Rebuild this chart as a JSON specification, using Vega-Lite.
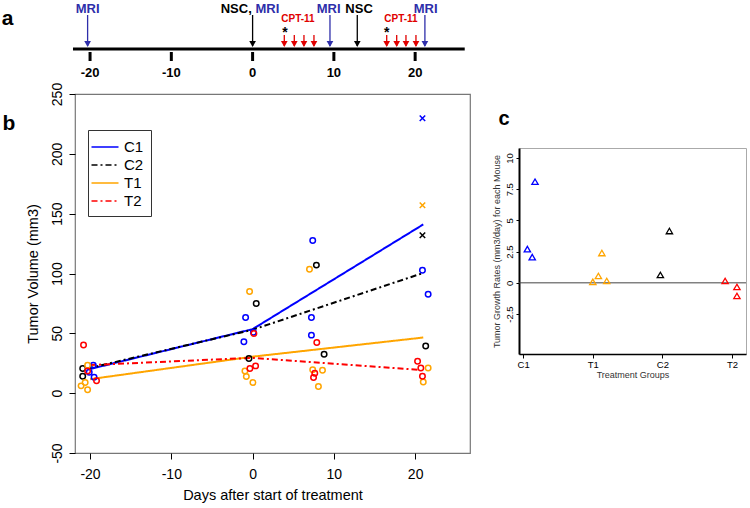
{
  "$schema": "https://vega.github.io/schema/vega-lite/v6.json",
  "padding": 0,
  "background": "white",
  "bounds": "flush",
  "spacing": 0,
  "config": {
    "view": {"stroke": null},
    "font": "Liberation Sans",
    "locale": {"number": {"decimal": ".", "thousands": ",", "grouping": [3], "currency": ["$", ""], "minus": "-"}},
    "axis": {"grid": false, "labelColor": "black", "titleColor": "black", "tickColor": "black", "domainColor": "black", "labelFont": "Liberation Sans", "titleFont": "Liberation Sans", "labelFlush": false, "labelOverlap": false}
  },
  "resolve": {"scale": {"color": "independent", "shape": "independent", "strokeDash": "independent"}, "legend": {"color": "independent", "shape": "independent", "strokeDash": "independent"}},
  "datasets": {
    "events": [
      {"d": -20.3, "event": "MRI"},
      {"d": 0, "event": "NSC"},
      {"d": 9.52, "event": "MRI"},
      {"d": 12.88, "event": "NSC"},
      {"d": 21.2, "event": "MRI"},
      {"d": 3.9, "event": "CPT-11"},
      {"d": 5.13, "event": "CPT-11"},
      {"d": 6.32, "event": "CPT-11"},
      {"d": 7.55, "event": "CPT-11"},
      {"d": 16.5, "event": "CPT-11"},
      {"d": 17.73, "event": "CPT-11"},
      {"d": 18.87, "event": "CPT-11"},
      {"d": 20.1, "event": "CPT-11"}
    ],
    "fits": [
      {"day": -20.1, "vol": 20, "group": "C1"},
      {"day": 0, "vol": 53.5, "group": "C1"},
      {"day": 21, "vol": 141, "group": "C1"},
      {"day": -20.3, "vol": 20.6, "group": "C2"},
      {"day": 0, "vol": 53, "group": "C2"},
      {"day": 20.8, "vol": 100, "group": "C2"},
      {"day": -20, "vol": 11.7, "group": "T1"},
      {"day": 0, "vol": 30.5, "group": "T1"},
      {"day": 21, "vol": 46.5, "group": "T1"},
      {"day": -20, "vol": 23.5, "group": "T2"},
      {"day": 0, "vol": 29.5, "group": "T2"},
      {"day": 20.5, "vol": 19.5, "group": "T2"}
    ],
    "obs": [
      {"day": -19.6, "vol": 23.4, "group": "C1", "marker": "o"},
      {"day": -19.5, "vol": 13.4, "group": "C1", "marker": "o"},
      {"day": -20.1, "vol": 17.5, "group": "C1", "marker": "o"},
      {"day": -0.86, "vol": 63.2, "group": "C1", "marker": "o"},
      {"day": -1.07, "vol": 42.9, "group": "C1", "marker": "o"},
      {"day": 0.1, "vol": 51, "group": "C1", "marker": "o"},
      {"day": 7.4, "vol": 127.5, "group": "C1", "marker": "o"},
      {"day": 7.24, "vol": 63.2, "group": "C1", "marker": "o"},
      {"day": 7.24, "vol": 48.5, "group": "C1", "marker": "o"},
      {"day": 20.9, "vol": 229.7, "group": "C1", "marker": "x"},
      {"day": 20.9, "vol": 102.8, "group": "C1", "marker": "o"},
      {"day": 21.6, "vol": 82.7, "group": "C1", "marker": "o"},
      {"day": -20.9, "vol": 20.6, "group": "C2", "marker": "o"},
      {"day": -20.9, "vol": 14.2, "group": "C2", "marker": "o"},
      {"day": 0.45, "vol": 75, "group": "C2", "marker": "o"},
      {"day": -0.45, "vol": 29, "group": "C2", "marker": "o"},
      {"day": 7.85, "vol": 107, "group": "C2", "marker": "o"},
      {"day": 8.8, "vol": 32.5, "group": "C2", "marker": "o"},
      {"day": 20.9, "vol": 132, "group": "C2", "marker": "x"},
      {"day": 21.3, "vol": 39.5, "group": "C2", "marker": "o"},
      {"day": -20.3, "vol": 23.4, "group": "T1", "marker": "o"},
      {"day": -20.6, "vol": 8.9, "group": "T1", "marker": "o"},
      {"day": -21.1, "vol": 6.1, "group": "T1", "marker": "o"},
      {"day": -20.3, "vol": 2.8, "group": "T1", "marker": "o"},
      {"day": -0.37, "vol": 85, "group": "T1", "marker": "o"},
      {"day": -0.94, "vol": 18.6, "group": "T1", "marker": "o"},
      {"day": -0.77, "vol": 13.9, "group": "T1", "marker": "o"},
      {"day": 0.04, "vol": 8.9, "group": "T1", "marker": "o"},
      {"day": 7.0, "vol": 103.6, "group": "T1", "marker": "o"},
      {"day": 7.4, "vol": 19.5, "group": "T1", "marker": "o"},
      {"day": 8.6, "vol": 19.2, "group": "T1", "marker": "o"},
      {"day": 8.1, "vol": 5.6, "group": "T1", "marker": "o"},
      {"day": 20.9, "vol": 157, "group": "T1", "marker": "x"},
      {"day": 21.6, "vol": 21, "group": "T1", "marker": "o"},
      {"day": 21.0, "vol": 9.3, "group": "T1", "marker": "o"},
      {"day": -20.8, "vol": 40.3, "group": "T2", "marker": "o"},
      {"day": -20.3, "vol": 18.5, "group": "T2", "marker": "o"},
      {"day": -19.2, "vol": 10.3, "group": "T2", "marker": "o"},
      {"day": 0.16, "vol": 49.9, "group": "T2", "marker": "o"},
      {"day": -0.33, "vol": 20.6, "group": "T2", "marker": "o"},
      {"day": 0.37, "vol": 22.8, "group": "T2", "marker": "o"},
      {"day": 7.9, "vol": 42.3, "group": "T2", "marker": "o"},
      {"day": 7.65, "vol": 16.7, "group": "T2", "marker": "o"},
      {"day": 7.5, "vol": 13.1, "group": "T2", "marker": "o"},
      {"day": 20.3, "vol": 26.7, "group": "T2", "marker": "o"},
      {"day": 20.7, "vol": 21, "group": "T2", "marker": "o"},
      {"day": 20.9, "vol": 14.2, "group": "T2", "marker": "o"}
    ],
    "rates": [
      {"pos": 1.06, "rate": 2.7, "group": "C1"},
      {"pos": 1.13, "rate": 2.06, "group": "C1"},
      {"pos": 1.17, "rate": 8.1, "group": "C1"},
      {"pos": 2.0, "rate": 0.08, "group": "T1"},
      {"pos": 2.08, "rate": 0.55, "group": "T1"},
      {"pos": 2.13, "rate": 2.39, "group": "T1"},
      {"pos": 2.2, "rate": 0.15, "group": "T1"},
      {"pos": 2.97, "rate": 0.63, "group": "C2"},
      {"pos": 3.1, "rate": 4.15, "group": "C2"},
      {"pos": 3.9, "rate": 0.15, "group": "T2"},
      {"pos": 4.07, "rate": -0.33, "group": "T2"},
      {"pos": 4.07, "rate": -1.05, "group": "T2"}
    ]
  },
  "vconcat": [
    {
      "width": 750,
      "height": 94,
      "encoding": {
        "x": {"field": "d", "type": "quantitative", "scale": {"domain": [-31.08, 61.2], "nice": false, "zero": false}, "axis": null}
      },
      "layer": [
        {
          "data": {"values": [{"d": -22.1, "d2": 26.1}]},
          "mark": {"type": "rule", "strokeWidth": 3, "color": "black"},
          "encoding": {"x2": {"field": "d2"}, "y": {"datum": -1, "type": "quantitative", "scale": {"domain": [-46, 48], "nice": false, "zero": false}, "axis": null}}
        },
        {
          "data": {"values": [{"d": -20, "lab": "-20"}, {"d": -10, "lab": "-10"}, {"d": 0, "lab": "0"}, {"d": 10, "lab": "10"}, {"d": 20, "lab": "20"}]},
          "mark": {"type": "rule", "strokeWidth": 3, "color": "black"},
          "encoding": {"y": {"datum": -4, "type": "quantitative", "scale": {"domain": [-46, 48]}, "axis": null}, "y2": {"datum": -13}}
        },
        {
          "data": {"values": [{"d": -20, "lab": "-20"}, {"d": -10, "lab": "-10"}, {"d": 0, "lab": "0"}, {"d": 10, "lab": "10"}, {"d": 20, "lab": "20"}]},
          "mark": {"type": "text", "fontSize": 13, "fontWeight": "bold", "baseline": "middle", "align": "center", "color": "black"},
          "encoding": {"y": {"datum": -25, "type": "quantitative", "scale": {"domain": [-46, 48]}, "axis": null}, "text": {"field": "lab"}}
        },
        {
          "data": {"name": "events"},
          "transform": [{"filter": "datum.event !== 'CPT-11'"}],
          "mark": {"type": "rule", "strokeWidth": 1.3},
          "encoding": {
            "y": {"datum": 33, "type": "quantitative", "scale": {"domain": [-46, 48]}, "axis": null},
            "y2": {"datum": 2},
            "color": {"field": "event", "type": "nominal", "scale": {"domain": ["MRI", "NSC", "CPT-11"], "range": ["#2e2eaa", "#000000", "#e00000"]}, "legend": null}
          }
        },
        {
          "data": {"name": "events"},
          "transform": [{"filter": "datum.event === 'CPT-11'"}],
          "mark": {"type": "rule", "strokeWidth": 1.3},
          "encoding": {
            "y": {"datum": 13, "type": "quantitative", "scale": {"domain": [-46, 48]}, "axis": null},
            "y2": {"datum": 2},
            "color": {"field": "event", "type": "nominal", "legend": null}
          }
        },
        {
          "data": {"name": "events"},
          "mark": {"type": "point", "shape": "triangle-down", "filled": true, "size": 45, "opacity": 1},
          "encoding": {
            "y": {"datum": 4, "type": "quantitative", "scale": {"domain": [-46, 48]}, "axis": null},
            "color": {"field": "event", "type": "nominal", "legend": null}
          }
        },
        {
          "data": {"values": [{"d": -20.3, "lab": "MRI", "event": "MRI"}, {"d": 9.35, "lab": "MRI", "event": "MRI"}, {"d": 13.1, "lab": "NSC", "event": "NSC"}, {"d": 21.3, "lab": "MRI", "event": "MRI"}]},
          "mark": {"type": "text", "fontSize": 13, "fontWeight": "bold", "baseline": "middle", "align": "center"},
          "encoding": {
            "y": {"datum": 39, "type": "quantitative", "scale": {"domain": [-46, 48]}, "axis": null},
            "text": {"field": "lab"},
            "color": {"field": "event", "type": "nominal", "legend": null}
          }
        },
        {
          "data": {"values": [{"d": -0.1, "lab": "NSC,", "event": "NSC"}]},
          "mark": {"type": "text", "fontSize": 13, "fontWeight": "bold", "baseline": "middle", "align": "right"},
          "encoding": {
            "y": {"datum": 39, "type": "quantitative", "scale": {"domain": [-46, 48]}, "axis": null},
            "text": {"field": "lab"},
            "color": {"field": "event", "type": "nominal", "legend": null}
          }
        },
        {
          "data": {"values": [{"d": 0.35, "lab": "MRI", "event": "MRI"}]},
          "mark": {"type": "text", "fontSize": 13, "fontWeight": "bold", "baseline": "middle", "align": "left"},
          "encoding": {
            "y": {"datum": 39, "type": "quantitative", "scale": {"domain": [-46, 48]}, "axis": null},
            "text": {"field": "lab"},
            "color": {"field": "event", "type": "nominal", "legend": null}
          }
        },
        {
          "data": {"values": [{"d": 5.58, "lab": "CPT-11", "event": "CPT-11"}, {"d": 18.26, "lab": "CPT-11", "event": "CPT-11"}]},
          "mark": {"type": "text", "fontSize": 10, "fontWeight": "bold", "baseline": "middle", "align": "center"},
          "encoding": {
            "y": {"datum": 29.5, "type": "quantitative", "scale": {"domain": [-46, 48]}, "axis": null},
            "text": {"field": "lab"},
            "color": {"field": "event", "type": "nominal", "legend": null}
          }
        },
        {
          "data": {"values": [{"d": 3.98, "lab": "*"}, {"d": 16.5, "lab": "*"}]},
          "mark": {"type": "text", "fontSize": 14, "fontWeight": "bold", "baseline": "alphabetic", "align": "center", "color": "black"},
          "encoding": {
            "y": {"datum": 11, "type": "quantitative", "scale": {"domain": [-46, 48]}, "axis": null},
            "text": {"field": "lab"}
          }
        },
        {
          "data": {"values": [{"d": -30.15, "lab": "a"}]},
          "mark": {"type": "text", "fontSize": 21, "fontWeight": "bold", "baseline": "alphabetic", "align": "center", "color": "black"},
          "encoding": {
            "y": {"datum": 23.5, "type": "quantitative", "scale": {"domain": [-46, 48]}, "axis": null},
            "text": {"field": "lab"}
          }
        }
      ]
    },
    {
      "bounds": "flush",
      "spacing": 0,
      "resolve": {"scale": {"color": "independent", "shape": "independent", "strokeDash": "independent"}, "legend": {"color": "independent", "shape": "independent", "strokeDash": "independent"}},
      "hconcat": [
        {"width": 75, "height": 359, "data": {"values": []}, "mark": "text"},
        {
          "width": 395,
          "height": 359,
          "view": {"stroke": "#777777", "strokeWidth": 1.2},
          "encoding": {
            "x": {"field": "day", "type": "quantitative", "scale": {"domain": [-21.85, 26.75], "nice": false, "zero": false},
              "axis": {"values": [-20, -10, 0, 10, 20], "title": "Days after start of treatment", "titleFontSize": 14.5, "titleFontWeight": "normal", "titlePadding": 7, "labelFontSize": 14, "tickSize": 6, "labelPadding": 8, "domain": false}},
            "y": {"field": "vol", "type": "quantitative", "scale": {"domain": [-50, 250], "nice": false, "zero": false},
              "axis": {"values": [-50, 0, 50, 100, 150, 200, 250], "title": "Tumor Volume (mm3)", "titleFontSize": 14.5, "titleFontWeight": "normal", "titlePadding": 10, "labelFontSize": 14, "labelAngle": 270, "labelAlign": "center", "labelBaseline": "bottom", "tickSize": 6, "labelPadding": 5, "domain": false}}
          },
          "layer": [
            {
              "data": {"name": "fits"},
              "mark": {"type": "line", "strokeWidth": 2},
              "encoding": {
                "color": {"field": "group", "type": "nominal", "scale": {"domain": ["C1", "C2", "T1", "T2"], "range": ["#0000ff", "#000000", "#ffa500", "#ff0000"]},
                  "legend": {"title": null, "orient": "none", "legendX": 13, "legendY": 36, "symbolType": "M-1.5,0L1.5,0", "symbolSize": 324, "symbolStrokeWidth": 1.5, "labelFontSize": 15, "labelOffset": 9, "padding": 7, "rowPadding": 0, "strokeColor": "#333333", "fillColor": "white", "labelColor": "black"}},
                "strokeDash": {"field": "group", "type": "nominal", "scale": {"domain": ["C1", "C2", "T1", "T2"], "range": [[1, 0], [6, 3, 2, 3], [1, 0], [6, 3, 2, 3]]},
                  "legend": {"title": null, "orient": "none", "legendX": 13, "legendY": 36, "symbolType": "M-1.5,0L1.5,0", "symbolSize": 324, "symbolStrokeWidth": 1.5, "labelFontSize": 15, "labelOffset": 9, "padding": 7, "rowPadding": 0, "strokeColor": "#333333", "fillColor": "white", "labelColor": "black"}}
              }
            },
            {
              "data": {"name": "obs"},
              "mark": {"type": "point", "filled": false, "strokeWidth": 1.5, "size": 30, "opacity": 1},
              "encoding": {
                "color": {"field": "group", "type": "nominal", "legend": null},
                "shape": {"field": "marker", "type": "nominal", "scale": {"domain": ["o", "x"], "range": ["circle", "M-1,-1L1,1M-1,1L1,-1"]}, "legend": null}
              }
            },
            {
              "data": {"values": [{"day": -29.97, "vol": 219.9, "lab": "b"}]},
              "mark": {"type": "text", "fontSize": 21, "fontWeight": "bold", "baseline": "alphabetic", "align": "center", "color": "black"},
              "encoding": {"text": {"field": "lab"}}
            }
          ]
        },
        {"width": 49, "height": 10, "data": {"values": []}, "mark": "text"},
        {
          "bounds": "flush",
          "spacing": 0,
          "vconcat": [
            {"width": 227, "height": 54, "data": {"values": []}, "mark": "text"},
            {
              "width": 227,
              "height": 206,
              "view": {"stroke": "#aaaaaa"},
              "encoding": {
                "x": {"field": "pos", "type": "quantitative", "scale": {"domain": [0.94, 4.2], "nice": false, "zero": false},
                  "axis": {"values": [1, 2, 3, 4], "labelExpr": "['','C1','T1','C2','T2'][datum.value]", "title": "Treatment Groups", "titleFontSize": 9, "titleFontWeight": "normal", "titleColor": "#333333", "labelFontSize": 9.5, "tickSize": 4, "labelPadding": 1, "titlePadding": 2, "domainWidth": 1.5}},
                "y": {"field": "rate", "type": "quantitative", "scale": {"domain": [-5.7, 10.8], "nice": false, "zero": false},
                  "axis": {"values": [-2.5, 0, 2.5, 5, 7.5, 10], "format": ".1~f", "title": "Tumor Growth Rates (mm3/day) for each Mouse", "titleFontSize": 9, "titleFontWeight": "normal", "titleColor": "#333333", "labelFontSize": 9.5, "labelAngle": 270, "labelAlign": "center", "labelBaseline": "bottom", "tickSize": 3, "labelPadding": 2, "titlePadding": 3, "domainWidth": 2}}
              },
              "layer": [
                {
                  "data": {"values": [{"rate": 0}]},
                  "mark": {"type": "rule", "color": "#444444", "strokeWidth": 1},
                  "encoding": {"x": null}
                },
                {
                  "data": {"name": "rates"},
                  "mark": {"type": "point", "shape": "triangle-up", "filled": false, "strokeWidth": 1.3, "size": 40, "opacity": 1},
                  "encoding": {
                    "color": {"field": "group", "type": "nominal", "scale": {"domain": ["C1", "C2", "T1", "T2"], "range": ["#0000ff", "#000000", "#ffa500", "#ff0000"]}, "legend": null}
                  }
                },
                {
                  "data": {"values": [{"pos": 0.725, "rate": 12.64, "lab": "c"}]},
                  "mark": {"type": "text", "fontSize": 20, "fontWeight": "bold", "baseline": "alphabetic", "align": "center", "color": "black"},
                  "encoding": {"text": {"field": "lab"}}
                }
              ]
            }
          ]
        }
      ]
    }
  ]
}
